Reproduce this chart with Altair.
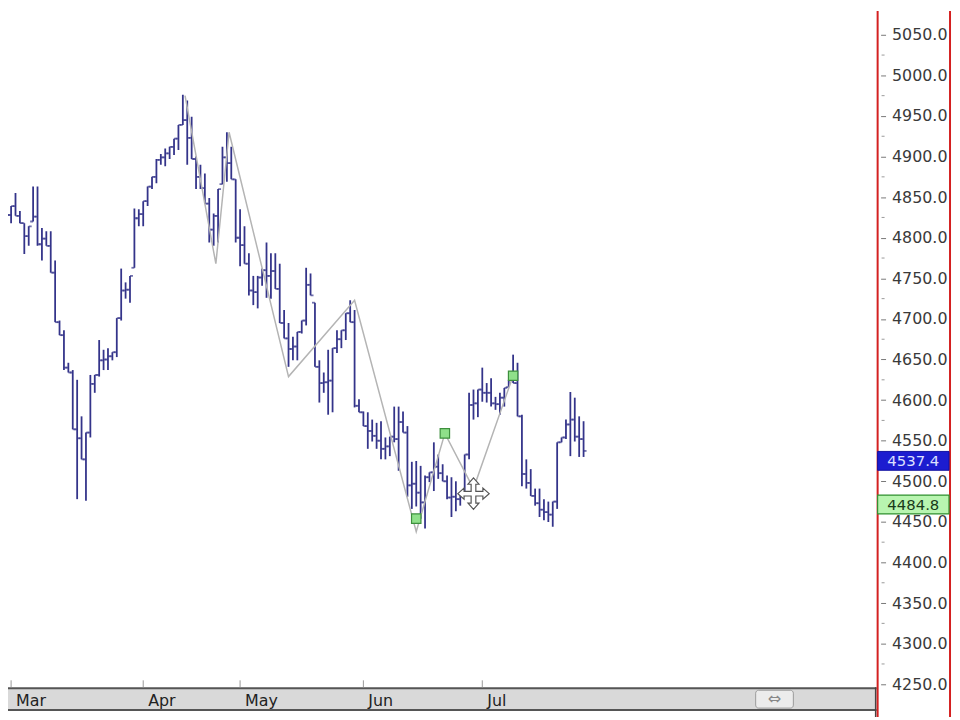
import altair as alt
import pandas as pd

# ---------------- data ----------------
high = [4842,4842,4839,4855,4833,4818,4814,4863,4863,4812,
        4808,4808,4772,4698,4686,4646,4637,4625,4580,4560,
        4631,4631,4674,4662,4664,4659,4701,4762,4745,4753,
        4836,4835,4845,4863,4875,4897,4903,4910,4912,4922,
        4939,4976,4969,4949,4900,4890,4879,4849,4830,4860,
        4912,4930,4912,4872,4835,4814,4781,4753,4753,4762,
        4794,4781,4781,4768,4711,4695,4678,4684,4698,4763,
        4756,4720,4649,4634,4662,4664,4686,4686,4707,4723,
        4711,4601,4586,4585,4576,4572,4574,4554,4555,4592,
        4592,4586,4568,4524,4525,4519,4507,4511,4548,4533,
        4521,4507,4505,4500,4487,4533,4609,4613,4613,4640,
        4621,4627,4604,4609,4615,4625,4656,4646,4582,4527,
        4515,4491,4491,4478,4475,4475,4548,4554,4576,4610,
        4603,4580,4574]
low = [4800,4814,4818,4827,4818,4780,4790,4820,4790,4772,
       4790,4757,4696,4680,4637,4634,4564,4478,4527,4476,
       4554,4609,4629,4637,4637,4649,4653,4698,4725,4720,
       4763,4814,4814,4839,4860,4867,4890,4888,4897,4902,
       4908,4939,4890,4897,4860,4860,4842,4794,4790,4794,
       4866,4869,4872,4794,4765,4768,4729,4717,4713,4741,
       4726,4725,4737,4695,4676,4641,4649,4649,4682,4692,
       4729,4641,4597,4609,4582,4585,4658,4664,4674,4696,
       4591,4585,4568,4540,4549,4540,4527,4527,4531,4548,
       4513,4560,4481,4466,4469,4454,4442,4499,4488,4503,
       4500,4478,4456,4463,4470,4482,4527,4576,4579,4598,
       4597,4592,4588,4582,4592,4616,4621,4580,4494,4491,
       4482,4470,4456,4452,4450,4444,4466,4548,4552,4531,
       4549,4530,4530]
open_ = [4835,4828,4828,4839,4827,4818,4802,4820,4826,4792,
         4799,4790,4757,4696,4680,4640,4634,4564,4553,4527,
         4560,4620,4631,4649,4650,4654,4659,4701,4735,4736,
         4763,4824,4829,4845,4863,4875,4896,4899,4904,4912,
         4922,4939,4945,4923,4897,4875,4861,4842,4810,4827,
         4866,4899,4892,4872,4800,4791,4768,4735,4733,4751,
         4760,4753,4759,4737,4695,4676,4663,4666,4684,4698,
         4742,4720,4641,4621,4622,4624,4664,4675,4686,4707,
         4696,4593,4585,4568,4562,4556,4550,4540,4543,4555,
         4552,4573,4560,4495,4497,4486,4474,4505,4511,4518,
         4510,4500,4480,4481,4478,4487,4533,4594,4596,4613,
         4609,4609,4596,4595,4603,4616,4625,4621,4580,4509,
         4498,4482,4473,4465,4462,4459,4475,4548,4554,4570,
         4576,4555,4552]
close = [4828,4828,4839,4827,4818,4802,4814,4826,4792,4799,
         4790,4757,4696,4680,4640,4634,4564,4553,4527,4560,
         4620,4631,4649,4650,4654,4659,4701,4735,4736,4753,
         4824,4829,4845,4863,4875,4896,4899,4904,4912,4922,
         4939,4945,4923,4897,4875,4861,4842,4810,4827,4860,
         4899,4892,4872,4800,4791,4768,4735,4733,4751,4760,
         4753,4759,4737,4695,4676,4663,4666,4684,4698,4742,
         4729,4641,4621,4622,4624,4664,4675,4686,4707,4696,
         4593,4585,4568,4562,4556,4550,4540,4543,4555,4552,
         4573,4560,4495,4497,4486,4474,4505,4511,4518,4510,
         4500,4480,4481,4478,4487,4533,4594,4596,4613,4609,
         4609,4596,4595,4603,4615,4625,4621,4580,4509,4498,
         4482,4473,4465,4462,4459,4475,4548,4554,4570,4576,
         4555,4552,4537.4]
session = list(range(1, len(high) + 1))

month_names = ["Mar", "Apr", "May", "Jun", "Jul"]
month_session = [3, 33, 55, 83, 110]

zigzag_session = [42.5, 49.5, 52.5, 66, 81, 95, 101.5, 108, 117]
zigzag_value = [4975, 4768, 4930, 4629, 4723, 4438, 4559, 4491, 4630]
marker_session = [95, 101.5, 117]
marker_value = [4454, 4559, 4630]

last_price = 4537.4
cursor_price = 4484.8
cursor_session = 108

y_major = list(range(4250, 5051, 50))
y_minor = list(range(4275, 5051, 50))

# ---------------- tables ----------------
bars = pd.DataFrame({"s": session, "o": open_, "h": high, "l": low, "c": close})
months = pd.DataFrame({"s": month_session, "m": month_names})
zig = pd.DataFrame({"s": zigzag_session, "v": zigzag_value, "k": list(range(len(zigzag_value)))})
marks = pd.DataFrame({"s": marker_session, "v": marker_value})
minor = pd.DataFrame({"v": y_minor})
one = pd.DataFrame({"k": [0]})
last_df = pd.DataFrame({"v": [last_price], "t": [f"{last_price:.1f}"]})
cur_df = pd.DataFrame({"v": [cursor_price], "t": [f"{cursor_price:.1f}"], "s": [cursor_session]})

W, H = 876, 682
xs = alt.Scale(domain=[2.297, 199.55], nice=False, zero=False)
ys = alt.Scale(domain=[4246.3, 5079.3], nice=False, zero=False)
FONT = "DejaVu Sans"
BAR = "#34348a"

YAXIS = alt.Axis(orient="right", values=y_major, format=".1f", domain=False, offset=4,
                 ticks=True, tickSize=5, tickColor="#777", tickWidth=1,
                 labelFont=FONT, labelFontSize=16, labelColor="#3a3a3a",
                 labelPadding=6, grid=False, labelOverlap=False, title=None)

X = alt.X("s:Q", scale=xs, axis=None)
def Yq(f):
    return alt.Y(f, scale=ys, axis=YAXIS, title=None)

wick = alt.Chart(bars).mark_rule(color=BAR, strokeWidth=1.8, clip=True).encode(
    x=X, y=Yq("l:Q"), y2="h:Q")
opn = alt.Chart(bars).mark_tick(color=BAR, orient="horizontal", size=3, thickness=1.8,
                                xOffset=-1.5, clip=True).encode(x=X, y=Yq("o:Q"))
cls = alt.Chart(bars).mark_tick(color=BAR, orient="horizontal", size=3, thickness=1.8,
                                xOffset=1.5, clip=True).encode(x=X, y=Yq("c:Q"))

zz = alt.Chart(zig).mark_line(color="#b4b4b4", strokeWidth=1.5, clip=True).encode(
    x=X, y=Yq("v:Q"), order="k:Q")
gm = alt.Chart(marks).mark_point(shape="square", size=90, filled=True, fill="#8fe08a",
                                 stroke="#3d8f3d", strokeWidth=1.2, opacity=1).encode(
    x=X, y=Yq("v:Q"))

arrow_path = ("M0,-1L0.35,-0.6L0.15,-0.6L0.15,-0.15L0.6,-0.15L0.6,-0.35L1,0L0.6,0.35L0.6,0.15"
              "L0.15,0.15L0.15,0.6L0.35,0.6L0,1L-0.35,0.6L-0.15,0.6L-0.15,0.15L-0.6,0.15"
              "L-0.6,0.35L-1,0L-0.6,-0.35L-0.6,-0.15L-0.15,-0.15L-0.15,-0.6L-0.35,-0.6Z")
cursor = alt.Chart(cur_df).mark_point(shape=arrow_path, size=1000, filled=True, fill="white",
                                      stroke="#555", strokeWidth=1.2, opacity=1).encode(
    x=X, y=Yq("v:Q"))

# minor ticks on the price axis
minor_t = alt.Chart(minor).mark_rule(color="#999", strokeWidth=1).encode(
    x=alt.value(W + 5), x2=alt.value(W + 8), y=Yq("v:Q"))

# bottom date band
band = alt.Chart(one).mark_rect(color="#d9d9d9").encode(
    x=alt.value(0), x2=alt.value(W), y=alt.value(H + 1), y2=alt.value(H + 22))
band_top = alt.Chart(one).mark_rule(color="#555", strokeWidth=2).encode(
    x=alt.value(0), x2=alt.value(W), y=alt.value(H + 1))
band_bot = alt.Chart(one).mark_rule(color="#555", strokeWidth=2).encode(
    x=alt.value(0), x2=alt.value(W), y=alt.value(H + 23))
band_side = alt.Chart(one).mark_rule(color="#444", strokeWidth=1.5).encode(
    x=alt.value(W - 1), y=alt.value(H), y2=alt.value(H + 30))
m_ticks = alt.Chart(months).mark_rule(color="#999", strokeWidth=1).encode(
    x=X, y=alt.value(H - 7), y2=alt.value(H))
m_text = alt.Chart(months).mark_text(align="left", baseline="middle", dx=5, font=FONT,
                                     fontSize=16, color="#222").encode(
    x=X, y=alt.value(H + 14), text="m:N")
btn = alt.Chart(one).mark_rect(fill="#ececec", stroke="#9a9a9a", strokeWidth=1,
                               cornerRadius=3).encode(
    x=alt.value(754), x2=alt.value(792), y=alt.value(H + 3), y2=alt.value(H + 21))
btn_t = alt.Chart(pd.DataFrame({"t": ["\u21d4"]})).mark_text(
    font=FONT, fontSize=16, color="#888", align="center", baseline="middle").encode(
    x=alt.value(773), y=alt.value(H + 12), text="t:N")

# red separators
red1 = alt.Chart(one).mark_rule(color="#d42020", strokeWidth=2).encode(
    x=alt.value(W + 1), y=alt.value(0), y2=alt.value(H + 30))
red2 = alt.Chart(one).mark_rule(color="#d42020", strokeWidth=2).encode(
    x=alt.value(W + 74), y=alt.value(0), y2=alt.value(H + 30))

box_path = "M-1,-0.264L1,-0.264L1,0.264L-1,0.264Z"
last_box = alt.Chart(last_df).mark_point(shape=box_path, size=5184, filled=True, fill="#1c1cd0",
                                         stroke="#1010a0", strokeWidth=1, opacity=1,
                                         yOffset=10).encode(x=alt.value(W + 37), y=Yq("v:Q"))
last_txt = alt.Chart(last_df).mark_text(font=FONT, fontSize=15, color="#dde0ff", align="center",
                                        baseline="middle", yOffset=10).encode(
    x=alt.value(W + 37), y=Yq("v:Q"), text="t:N")
cur_box = alt.Chart(cur_df).mark_point(shape=box_path, size=5184, filled=True, fill="#b8f5b0",
                                       stroke="#2f8f2f", strokeWidth=1.2, opacity=1,
                                       yOffset=11).encode(x=alt.value(W + 37), y=Yq("v:Q"))
cur_txt = alt.Chart(cur_df).mark_text(font=FONT, fontSize=15, color="#1a3a1a", align="center",
                                      baseline="middle", yOffset=11).encode(
    x=alt.value(W + 37), y=Yq("v:Q"), text="t:N")

chart = alt.layer(
    wick, opn, cls, zz, gm, cursor, minor_t,
    band, band_top, band_bot, band_side, m_ticks, m_text, btn, btn_t,
    red1, red2, last_box, last_txt, cur_box, cur_txt,
).properties(
    width=W, height=H,
    padding={"left": 0, "top": 0, "right": 76, "bottom": 30},
    autosize=alt.AutoSizeParams(type="none"),
    background="white",
).configure_view(stroke=None)

chart.save("out.html", embed_options={"renderer": "svg", "actions": False})
